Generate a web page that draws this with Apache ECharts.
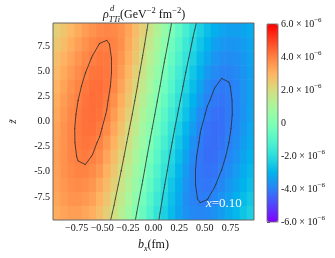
<!DOCTYPE html>
<html><head><meta charset="utf-8">
<script src="https://cdn.jsdelivr.net/npm/echarts@6/dist/echarts.min.js"></script>
<style>html,body{margin:0;padding:0;background:#fff}#c{width:335px;height:258px}</style>
</head><body><div id="c"></div>
<script>
// ---- data (rho in units of 1e-6 GeV^-2 fm^-2) ----
const bxCenters = [-0.945,-0.875,-0.805,-0.735,-0.665,-0.595,-0.525,-0.455,-0.385,-0.315,-0.245,-0.175,-0.105,-0.035,
                   0.035,0.105,0.175,0.245,0.315,0.385,0.455,0.525,0.595,0.665,0.735,0.805,0.875,0.945];
const zCenters = [9.1, 7.7, 6.3, 4.9, 3.5, 2.1, 0.7, -0.7, -2.1, -3.5, -4.9, -6.3, -7.7, -9.1];
const rowZ9_1  = [2.35,2.62,2.90,3.18,3.44,3.66,3.82,3.89,3.83,3.63,3.30,2.84,2.33,1.77,1.17,0.54,-0.10,-0.74,-1.34,-1.89,-2.35,-2.76,-3.09,-3.26,-3.40,-3.41,-3.31,-3.16];
const rowZ7_7  = [2.53,2.81,3.11,3.39,3.65,3.86,4.01,4.04,3.93,3.70,3.22,2.71,2.16,1.57,0.95,0.31,-0.33,-0.97,-1.56,-2.10,-2.58,-3.00,-3.36,-3.52,-3.62,-3.59,-3.46,-3.27];
const rowZ6_3  = [2.72,3.01,3.31,3.59,3.84,4.03,4.14,4.11,3.94,3.60,3.08,2.55,1.96,1.34,0.71,0.07,-0.57,-1.20,-1.78,-2.32,-2.82,-3.25,-3.57,-3.74,-3.78,-3.71,-3.56,-3.34];
const rowZ4_9  = [2.87,3.18,3.48,3.76,3.99,4.16,4.23,4.15,3.92,3.47,2.93,2.35,1.75,1.12,0.48,-0.16,-0.80,-1.42,-2.00,-2.56,-3.06,-3.51,-3.78,-3.93,-3.93,-3.81,-3.63,-3.38];
const rowZ3_5  = [3.01,3.33,3.63,3.90,4.12,4.26,4.29,4.15,3.85,3.31,2.75,2.16,1.54,0.90,0.26,-0.38,-1.02,-1.64,-2.23,-2.79,-3.30,-3.76,-3.98,-4.09,-4.03,-3.88,-3.66,-3.40];
const rowZ2_1  = [3.15,3.46,3.75,4.00,4.19,4.30,4.26,4.07,3.67,3.12,2.55,1.94,1.31,0.67,0.03,-0.61,-1.25,-1.86,-2.46,-3.02,-3.54,-3.93,-4.12,-4.17,-4.08,-3.90,-3.66,-3.38];
const rowZ0_7  = [3.25,3.55,3.84,4.07,4.24,4.30,4.21,3.96,3.47,2.92,2.33,1.72,1.08,0.44,-0.20,-0.84,-1.48,-2.09,-2.69,-3.25,-3.78,-4.10,-4.25,-4.24,-4.10,-3.89,-3.63,-3.34];
const rowZm0_7 = [3.34,3.63,3.89,4.10,4.24,4.25,4.10,3.78,3.25,2.69,2.09,1.48,0.84,0.20,-0.44,-1.08,-1.72,-2.33,-2.92,-3.47,-3.96,-4.21,-4.30,-4.24,-4.07,-3.84,-3.55,-3.25];
const rowZm2_1 = [3.38,3.66,3.90,4.08,4.17,4.12,3.93,3.54,3.02,2.46,1.86,1.25,0.61,-0.03,-0.67,-1.31,-1.94,-2.55,-3.12,-3.67,-4.07,-4.26,-4.30,-4.19,-4.00,-3.75,-3.46,-3.15];
const rowZm3_5 = [3.40,3.66,3.88,4.03,4.09,3.98,3.76,3.30,2.79,2.23,1.64,1.02,0.38,-0.26,-0.90,-1.54,-2.16,-2.75,-3.31,-3.85,-4.15,-4.29,-4.26,-4.12,-3.90,-3.63,-3.33,-3.01];
const rowZm4_9 = [3.38,3.63,3.81,3.93,3.93,3.78,3.51,3.06,2.56,2.00,1.42,0.80,0.16,-0.48,-1.12,-1.75,-2.35,-2.93,-3.47,-3.92,-4.15,-4.23,-4.16,-3.99,-3.76,-3.48,-3.18,-2.87];
const rowZm6_3 = [3.34,3.56,3.71,3.78,3.74,3.57,3.25,2.82,2.32,1.78,1.20,0.57,-0.07,-0.71,-1.34,-1.96,-2.55,-3.08,-3.60,-3.94,-4.11,-4.14,-4.03,-3.84,-3.59,-3.31,-3.01,-2.72];
const rowZm7_7 = [3.27,3.46,3.59,3.62,3.52,3.36,3.00,2.58,2.10,1.56,0.97,0.33,-0.31,-0.95,-1.57,-2.16,-2.71,-3.22,-3.70,-3.93,-4.04,-4.01,-3.86,-3.65,-3.39,-3.11,-2.81,-2.53];
const rowZm9_1 = [3.16,3.31,3.41,3.40,3.26,3.09,2.76,2.35,1.89,1.34,0.74,0.10,-0.54,-1.17,-1.77,-2.33,-2.84,-3.30,-3.63,-3.83,-3.89,-3.82,-3.66,-3.44,-3.18,-2.90,-2.62,-2.35];
const rhoRows = [rowZ9_1,rowZ7_7,rowZ6_3,rowZ4_9,rowZ3_5,rowZ2_1,rowZ0_7,rowZm0_7,rowZm2_1,rowZm3_5,rowZm4_9,rowZm6_3,rowZm7_7,rowZm9_1];
const contourLevels = [-4, -2, 0, 2, 4];
const xTicks = [-0.75, -0.5, -0.25, 0, 0.25, 0.5, 0.75];
const yTicks = [-7.5, -5, -2.5, 0, 2.5, 5, 7.5];
const cbTicks = [-6, -4, -2, 0, 2, 4, 6];
const annotation = 'x=0.10';

// ---- build ----
const SERIF = '"Liberation Serif","Times New Roman",serif';
const X_MIN = -0.98, X_MAX = 0.98, Z_MIN = -9.8, Z_MAX = 9.8;
const dx = bxCenters[1] - bxCenters[0];
const dz = zCenters[0] - zCenters[1];
const cells = [];
rhoRows.forEach((row, r) => row.forEach((v, c) => cells.push([bxCenters[c], zCenters[r], v])));

function contourSegments(level0) {
  const level = level0 + 1e-7;
  const segs = [];
  for (let r = 0; r < zCenters.length - 1; r++) {
    for (let c = 0; c < bxCenters.length - 1; c++) {
      const x0 = bxCenters[c], x1 = bxCenters[c + 1], y0 = zCenters[r], y1 = zCenters[r + 1];
      const a = rhoRows[r][c], b = rhoRows[r][c + 1], cc = rhoRows[r + 1][c + 1], d = rhoRows[r + 1][c];
      const pts = [];
      const edge = (va, vb, pa, pb) => {
        if ((va - level) * (vb - level) < 0) {
          const t = (level - va) / (vb - va);
          pts.push([pa[0] + t * (pb[0] - pa[0]), pa[1] + t * (pb[1] - pa[1])]);
        }
      };
      edge(a, b, [x0, y0], [x1, y0]);
      edge(b, cc, [x1, y0], [x1, y1]);
      edge(cc, d, [x1, y1], [x0, y1]);
      edge(d, a, [x0, y1], [x0, y0]);
      if (pts.length === 2) segs.push([pts[0], pts[1]]);
      else if (pts.length === 4) { segs.push([pts[0], pts[1]]); segs.push([pts[2], pts[3]]); }
    }
  }
  // continue lines that reach the outermost sample rows up to the frame
  const zTop = zCenters[0], zBot = zCenters[zCenters.length - 1];
  const ext = [];
  segs.forEach(([p, q]) => {
    [[p, q], [q, p]].forEach(([e, o]) => {
      const dzS = e[1] - o[1];
      if (Math.abs(dzS) < 1e-9) return;
      if (Math.abs(e[1] - zTop) < 1e-9) {
        const t = (Z_MAX - e[1]) / dzS; ext.push([e, [e[0] + t * (e[0] - o[0]), Z_MAX]]);
      } else if (Math.abs(e[1] - zBot) < 1e-9) {
        const t = (Z_MIN - e[1]) / dzS; ext.push([e, [e[0] + t * (e[0] - o[0]), Z_MIN]]);
      }
    });
  });
  return segs.concat(ext);
}
const segData = [];
contourLevels.forEach(l => contourSegments(l).forEach(s => segData.push([s[0][0], s[0][1], s[1][0], s[1][1]])));

const rainbow = ['#8000ff','#5542fd','#2b80f6','#00b4ec','#2bdddd','#55f6ca','#80ffb4','#aaf69b','#d5dd80','#ffb462','#ff8042','#ff4221','#ff0000'];

const chart = echarts.init(document.getElementById('c'), null, {renderer: 'canvas', width: 335, height: 258});
const labelStyle = {fontFamily: SERIF, fontSize: 10, color: '#111'};
chart.setOption({
  animation: false,
  backgroundColor: '#fff',
  grid: [
    {left: 41, top: 23, width: 213, height: 199, show: true, borderColor: '#666', borderWidth: 1, backgroundColor: 'transparent', z: 10},
    {left: 267, top: 24, width: 11, height: 198, show: true, borderColor: '#666', borderWidth: 0.8, backgroundColor: 'transparent', z: 10}
  ],
  xAxis: [
    {type: 'value', gridIndex: 0, min: X_MIN, max: X_MAX,
     axisLine: {show: false}, splitLine: {show: false},
     axisTick: {show: true, length: 3.5, customValues: xTicks, lineStyle: {color: '#333', width: 0.8}},
     axisLabel: Object.assign({margin: 3, customValues: xTicks,
       formatter: v => (v < 0 ? '\u2212' : '') + Math.abs(v).toFixed(2)}, labelStyle),
     name: '{i|b}{s|x}{m|(fm)}', nameLocation: 'middle', nameGap: 17,
     nameTextStyle: {rich: {
       i: {fontFamily: SERIF, fontSize: 12, fontStyle: 'italic', lineHeight: 16, color: '#111'},
       s: {fontFamily: SERIF, fontSize: 8, fontStyle: 'italic', lineHeight: 9, verticalAlign: 'bottom', color: '#111'},
       m: {fontFamily: SERIF, fontSize: 12, lineHeight: 16, color: '#111'}}}},
    {type: 'value', gridIndex: 1, min: 0, max: 1, show: false}
  ],
  yAxis: [
    {type: 'value', gridIndex: 0, min: Z_MIN, max: Z_MAX,
     axisLine: {show: false}, splitLine: {show: false},
     axisTick: {show: true, length: 3.5, customValues: yTicks, lineStyle: {color: '#333', width: 0.8}},
     axisLabel: Object.assign({margin: 3, customValues: yTicks, formatter: v => v.toFixed(1)}, labelStyle),
     name: 'z\u0303', nameLocation: 'middle', nameGap: 34, nameRotate: 90,
     nameTextStyle: {fontFamily: SERIF, fontSize: 11, fontStyle: 'italic', color: '#111'}},
    {type: 'value', gridIndex: 1, min: -6, max: 6, interval: 2, position: 'right',
     axisLine: {show: false}, splitLine: {show: false},
     axisTick: {show: true, length: 3, lineStyle: {color: '#333', width: 0.8}},
     axisLabel: {margin: 3, formatter: v => v === 0 ? '{a|0}' : '{a|' + (v < 0 ? '-' : '') + Math.abs(v).toFixed(1) + ' \u00d7 10}{b|\u22126}',
       rich: {a: {fontFamily: SERIF, fontSize: 10, color: '#111', lineHeight: 14},
              b: {fontFamily: SERIF, fontSize: 7, color: '#111', lineHeight: 8, verticalAlign: 'top'}}}}
  ],
  visualMap: {type: 'continuous', min: cbTicks[0], max: cbTicks[cbTicks.length - 1], dimension: 2, seriesIndex: 0, calculable: false,
    show: true, left: 267, top: 24, itemWidth: 11, itemHeight: 198, padding: 0, text: null,
    inRange: {color: rainbow}},
  series: [
    {type: 'custom', xAxisIndex: 0, yAxisIndex: 0, silent: true, clip: true,
     data: cells, encode: {x: 0, y: 1},
     renderItem: (params, api) => {
       const x = api.value(0), y = api.value(1);
       const p1 = api.coord([x - dx / 2, y + dz / 2]);
       const p2 = api.coord([x + dx / 2, y - dz / 2]);
       return {type: 'rect', shape: {x: p1[0], y: p1[1], width: p2[0] - p1[0] + 0.6, height: p2[1] - p1[1] + 0.6},
               style: {fill: api.visual('color')}};
     }},
    {type: 'custom', xAxisIndex: 0, yAxisIndex: 0, silent: true, clip: true, z: 5,
     data: segData, encode: {x: [0, 2], y: [1, 3]},
     renderItem: (params, api) => {
       const p = api.coord([api.value(0), api.value(1)]);
       const q = api.coord([api.value(2), api.value(3)]);
       return {type: 'line', shape: {x1: p[0], y1: p[1], x2: q[0], y2: q[1]},
               style: {stroke: '#2b2b2b', lineWidth: 0.8, lineCap: 'round'}};
     }}
  ],
  graphic: [
    {type: 'text', x: 103, y: 15, z: 20, style: {
      text: '{r|\u03c1}{s|TTi}{m|(GeV}{p|\u22122}{m| fm}{p|\u22122}{m|)}', verticalAlign: 'middle',
      rich: {
        r: {fontFamily: SERIF, fontSize: 12, fontStyle: 'italic', lineHeight: 18, fill: '#111'},
        m: {fontFamily: SERIF, fontSize: 12, lineHeight: 18, fill: '#111'},
        s: {fontFamily: SERIF, fontSize: 8.5, fontStyle: 'italic', lineHeight: 8, verticalAlign: 'bottom', fill: '#111'},
        p: {fontFamily: SERIF, fontSize: 8.5, lineHeight: 8, verticalAlign: 'top', fill: '#111'}}}},
    {type: 'text', x: 110, y: 9, z: 20, style: {text: 'd', fontFamily: SERIF, fontSize: 8.5, fontStyle: 'italic', fill: '#111', verticalAlign: 'middle'}},
    {type: 'text', x: 206, y: 204, z: 20, style: {
      text: '{i|x}{m|' + annotation.slice(1) + '}', verticalAlign: 'middle',
      rich: {i: {fontFamily: SERIF, fontSize: 13, fontStyle: 'italic', fill: '#fff'},
             m: {fontFamily: SERIF, fontSize: 13, fill: '#fff'}}}}
  ]
});
</script></body></html>
